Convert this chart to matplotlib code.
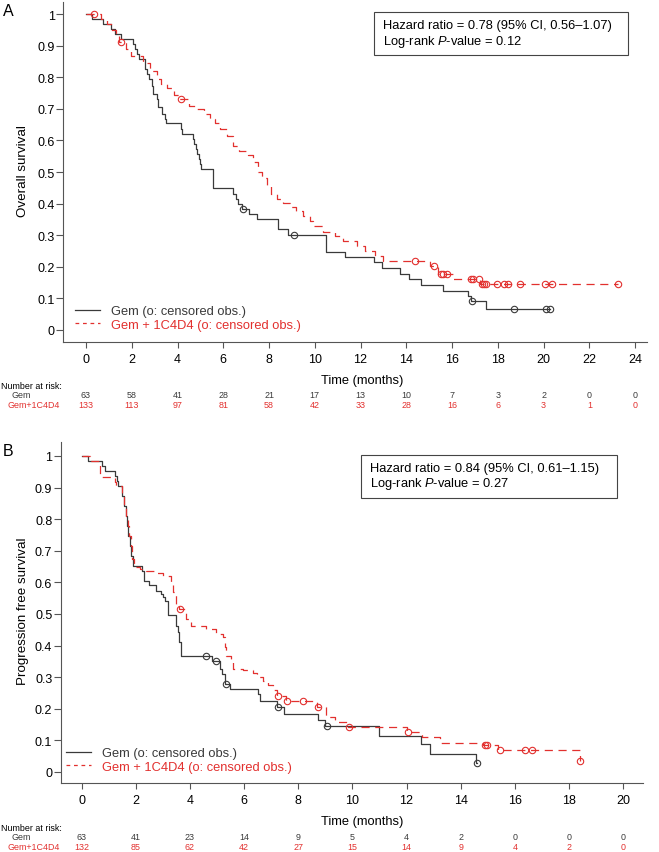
import numpy as np
import matplotlib.pyplot as plt
import matplotlib.transforms as mtransforms
from matplotlib.lines import Line2D
from matplotlib.patches import Rectangle

plt.rcParams['font.family'] = 'Liberation Sans'
plt.rcParams['mathtext.fontset'] = 'custom'
plt.rcParams['mathtext.rm'] = 'Liberation Sans'
plt.rcParams['mathtext.it'] = 'Liberation Sans:italic'

GEM_COL = '#3a3a3a'
RED_COL = '#e2302e'
AX_COL = '#555555'

# ---------- panel A: overall survival ----------
os_gem_t = [0, 0.25, 0.76, 1.08, 1.27, 1.53, 2.04, 2.14, 2.24, 2.32, 2.58, 2.68, 2.77,
            2.87, 2.94, 3.09, 3.16, 3.31, 3.45, 3.5, 4.15, 4.2, 4.68, 4.74, 4.8, 4.86,
            4.93, 4.98, 5.04, 5.54, 6.41, 6.56, 6.65, 6.8, 7.14, 7.49, 8.41, 8.85,
            10.48, 11.32, 12.58, 12.92, 13.72, 14.12, 14.66, 15.62, 16.7, 16.82, 17.5]
os_gem_s = [1.0, 0.984, 0.968, 0.952, 0.937, 0.921, 0.905, 0.889, 0.873, 0.857, 0.826, 0.81, 0.794,
            0.772, 0.747, 0.731, 0.706, 0.683, 0.668, 0.655, 0.636, 0.62, 0.604, 0.588, 0.572, 0.557,
            0.541, 0.525, 0.51, 0.448, 0.43, 0.415, 0.399, 0.383, 0.367, 0.35, 0.32, 0.30,
            0.248, 0.23, 0.214, 0.196, 0.177, 0.161, 0.142, 0.124, 0.108, 0.091, 0.066]
os_gem_cens = [6.88, 9.07, 16.86, 18.7, 20.1, 20.3]
os_gem_end = 20.3

os_red_t = [0, 0.65, 0.9, 1.12, 1.3, 1.45, 1.75, 1.97, 2.5, 2.8, 3.09, 3.3, 3.55, 3.85,
            4.05, 4.5, 4.85, 5.15, 5.4, 5.64, 5.86, 6.15, 6.44, 6.7, 7.1, 7.3, 7.5, 7.7,
            7.9, 8.1, 8.35, 8.63, 8.92, 9.2, 9.5, 9.79, 9.94, 10.37, 10.9, 11.25, 11.83,
            12.2, 12.63, 13.0, 15.04, 15.4, 16.06, 17.22]
os_red_s = [1.0, 0.985, 0.968, 0.95, 0.93, 0.912, 0.889, 0.866, 0.845, 0.82, 0.795, 0.78, 0.765, 0.745,
            0.73, 0.71, 0.698, 0.684, 0.668, 0.655, 0.636, 0.615, 0.583, 0.567, 0.555, 0.531, 0.5, 0.48,
            0.46, 0.43, 0.415, 0.402, 0.39, 0.378, 0.362, 0.346, 0.33, 0.31, 0.298, 0.283, 0.267,
            0.25, 0.235, 0.219, 0.203, 0.177, 0.161, 0.146]
os_red_cens = [0.36, 1.52, 4.14, 14.38, 15.2, 15.5, 15.62, 15.8, 16.82, 16.93, 17.17,
               17.3, 17.4, 17.5, 17.95, 18.25, 18.45, 18.95, 20.05, 20.35, 23.27]
os_red_end = 23.27

risk_t_a = [0, 2, 4, 6, 8, 10, 12, 14, 16, 18, 20, 22, 24]
risk_gem_a = [63, 58, 41, 28, 21, 17, 13, 10, 7, 3, 2, 0, 0]
risk_red_a = [133, 113, 97, 81, 58, 42, 33, 28, 16, 6, 3, 1, 0]

# ---------- panel B: progression free survival ----------
pfs_gem_t = [0, 0.23, 0.76, 0.85, 1.25, 1.3, 1.34, 1.5, 1.55, 1.63, 1.67, 1.71, 1.8, 1.84,
             1.9, 2.24, 2.29, 2.49, 2.76, 2.95, 3.01, 3.07, 3.19, 3.47, 3.56, 3.6, 3.68,
             4.8, 5.1, 5.2, 5.29, 5.47, 6.5, 6.58, 7.22, 7.47, 8.72, 9.0, 11.0, 12.52,
             12.87, 14.57]
pfs_gem_s = [1.0, 0.985, 0.969, 0.953, 0.937, 0.921, 0.906, 0.874, 0.842, 0.81, 0.779, 0.747, 0.715, 0.684,
             0.653, 0.637, 0.605, 0.59, 0.574, 0.563, 0.553, 0.542, 0.495, 0.463, 0.442, 0.41, 0.366,
             0.35, 0.326, 0.31, 0.278, 0.263, 0.245, 0.224, 0.207, 0.184, 0.164, 0.145, 0.115, 0.087,
             0.058, 0.029]
pfs_gem_cens = [4.61, 4.98, 5.35, 7.26, 9.05, 14.59]
pfs_gem_end = 14.59

pfs_red_t = [0, 0.3, 0.67, 0.69, 1.22, 1.28, 1.5, 1.55, 1.63, 1.71, 1.77, 1.84, 1.87, 1.92,
             2.14, 2.39, 2.76, 3.0, 3.32, 3.37, 3.5, 3.6, 3.87, 4.03, 4.61, 4.95, 5.22, 5.29,
             5.35, 5.5, 5.59, 5.96, 6.33, 6.46, 6.71, 6.9, 7.07, 7.22, 7.55, 8.7, 9.02, 9.35,
             9.85, 12.0, 12.56, 13.23, 14.84, 15.39, 18.41]
pfs_red_s = [1.0, 0.985, 0.969, 0.932, 0.917, 0.906, 0.874, 0.842, 0.81, 0.779, 0.748, 0.716, 0.674, 0.648,
             0.642, 0.637, 0.63, 0.621, 0.6, 0.569, 0.532, 0.516, 0.484, 0.461, 0.453, 0.437, 0.426, 0.395,
             0.368, 0.347, 0.326, 0.321, 0.313, 0.3, 0.289, 0.276, 0.26, 0.24, 0.224, 0.207, 0.175, 0.157,
             0.143, 0.126, 0.11, 0.092, 0.085, 0.07, 0.035]
pfs_red_cens = [3.65, 7.26, 7.6, 8.16, 8.74, 9.88, 12.07, 14.9, 14.97, 15.45, 16.38, 16.63, 18.42]
pfs_red_end = 18.42

risk_t_b = [0, 2, 4, 6, 8, 10, 12, 14, 16, 18, 20]
risk_gem_b = [63, 41, 23, 14, 9, 5, 4, 2, 0, 0, 0]
risk_red_b = [132, 85, 62, 42, 27, 15, 14, 9, 4, 2, 0]

W, H = 659, 853
fig = plt.figure(figsize=(W / 100, H / 100), dpi=100)


def fx(px):
    return px / W


def fy(py):
    return 1 - py / H


def km(ax, t, s, cens, t_end, **kw):
    t = np.asarray(t, float)
    s = np.asarray(s, float)
    ax.step(np.append(t, t_end), np.append(s, s[-1]), where='post', **kw)
    c = np.asarray(cens, float)
    cy = s[np.searchsorted(t, c, side='right') - 1]
    ax.plot(c, cy, 'o', ms=4.6, mfc='none', mec=kw['color'], mew=0.8, ls='none')


def panel(rect, xlim, ylim, xticks, ylabel, letter, letter_y, curves, hr_text,
          box, leg_xy, risk, risk_y, time_y):
    l, t, r, b = rect
    ax = fig.add_axes([fx(l), fy(b), fx(r) - fx(l), fy(t) - fy(b)])
    gt, gs, gc, ge, rt, rs, rc, re = curves
    km(ax, gt, gs, gc, ge, color=GEM_COL, lw=0.9)
    km(ax, rt, rs, rc, re, color=RED_COL, lw=0.9, dashes=(6.5, 4.5))
    ax.set_xlim(*xlim)
    ax.set_ylim(*ylim)
    for sp in ['top', 'right']:
        ax.spines[sp].set_visible(False)
    for sp in ['left', 'bottom']:
        ax.spines[sp].set_color(AX_COL)
        ax.spines[sp].set_linewidth(0.8)
    ax.set_xticks(xticks)
    yt = [0, 0.1, 0.2, 0.3, 0.4, 0.5, 0.6, 0.7, 0.8, 0.9, 1]
    ax.set_yticks(yt)
    ax.set_yticklabels([f'{v:g}' for v in yt])
    ax.tick_params(axis='y', length=5, width=0.8, color=AX_COL, pad=1, labelsize=9)
    ax.tick_params(axis='x', length=4, width=0.8, color=AX_COL, pad=4, labelsize=9)
    fig.text(fx(23), fy((t + b) / 2 - 2), ylabel, rotation=90, ha='center', va='center', fontsize=9.6)
    fig.text(fx(3), fy(letter_y), letter, ha='left', va='center', fontsize=11.5)
    fig.text(fx(362), fy(time_y), 'Time (months)', ha='center', va='center', fontsize=9.3)

    # hazard ratio box
    bx0, by0, bx1, by1 = box
    fig.patches.append(Rectangle((fx(bx0), fy(by1)), fx(bx1) - fx(bx0), fy(by0) - fy(by1),
                                 transform=fig.transFigure, fill=False, ec='#444444', lw=0.8))
    fig.text(fx(bx0 + 9), fy(by0 + 13), hr_text[0], ha='left', va='center', fontsize=9.3)
    fig.text(fx(bx0 + 9), fy(by0 + 28.5), hr_text[1], ha='left', va='center', fontsize=9.3)

    handles = [Line2D([], [], color=GEM_COL, lw=0.9),
               Line2D([], [], color=RED_COL, lw=0.9, dashes=(3, 3))]
    leg = ax.legend(handles, ['Gem (o: censored obs.)', 'Gem + 1C4D4 (o: censored obs.)'],
                    loc='upper left', bbox_to_anchor=(fx(leg_xy[0]), fy(leg_xy[1])),
                    bbox_transform=fig.transFigure, frameon=False, fontsize=9.3,
                    handlelength=1.9, handletextpad=0.9, labelspacing=0.12,
                    borderpad=0, borderaxespad=0)
    leg.get_texts()[0].set_color(GEM_COL)
    leg.get_texts()[1].set_color(RED_COL)

    # number at risk
    rt_, rg, rr = risk
    trans = mtransforms.blended_transform_factory(ax.transData, fig.transFigure)
    fig.text(fx(1), fy(risk_y[0]), 'Number at risk:', ha='left', va='center', fontsize=6.4)
    fig.text(fx(12), fy(risk_y[1]), 'Gem', ha='left', va='center', fontsize=6.4, color=GEM_COL)
    fig.text(fx(8), fy(risk_y[2]), 'Gem+1C4D4', ha='left', va='center', fontsize=6.4, color=RED_COL)
    for x, g, r_ in zip(rt_, rg, rr):
        ax.text(x, fy(risk_y[1]), str(g), transform=trans, ha='center', va='center',
                fontsize=6.4, color=GEM_COL)
        ax.text(x, fy(risk_y[2]), str(r_), transform=trans, ha='center', va='center',
                fontsize=6.4, color=RED_COL)
    return ax


panel((63, 3, 647, 343), (-1.005, 24.52), (-0.038, 1.038), risk_t_a, 'Overall survival',
      'A', 11, (os_gem_t, os_gem_s, os_gem_cens, os_gem_end,
                os_red_t, os_red_s, os_red_cens, os_red_end),
      ('Hazard ratio = 0.78 (95% CI, 0.56\u20131.07)', 'Log-rank $\\mathit{P}$-value = 0.12'),
      (374, 13, 628, 56), (75, 306), (risk_t_a, risk_gem_a, risk_red_a), (387, 396, 406), 381)

panel((60.7, 443, 643, 784.3), (-0.77, 20.73), (-0.036, 1.044), risk_t_b, 'Progression free survival',
      'B', 452, (pfs_gem_t, pfs_gem_s, pfs_gem_cens, pfs_gem_end,
                 pfs_red_t, pfs_red_s, pfs_red_cens, pfs_red_end),
      ('Hazard ratio = 0.84 (95% CI, 0.61\u20131.15)', 'Log-rank $\\mathit{P}$-value = 0.27'),
      (361, 456, 617, 499), (66, 748), (risk_t_b, risk_gem_b, risk_red_b), (829, 838, 848), 822)

fig.savefig('out.png', dpi=100)
